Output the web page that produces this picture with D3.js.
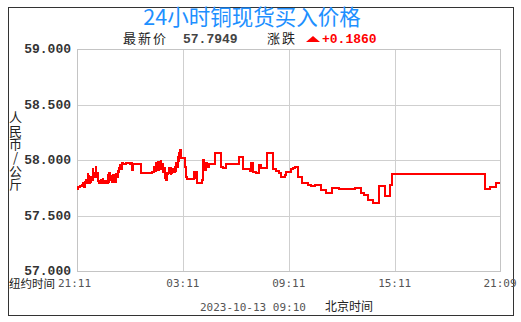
<!DOCTYPE html>
<html>
<head>
<meta charset="utf-8">
<script src="https://cdn.jsdelivr.net/npm/d3@7"></script>
<style>
    body { margin: 0; background: #fff; }
    svg { display: block; }
</style>
</head>
<body>
<div id="vis"></div>
<script>
const width = 521;
const height = 322;
const plot = {left: 77, right: 500, top: 49, bottom: 271};

// minutes after 21:11 (New York time) and price in yuan / kg
const minutes = [0, 4, 10, 16, 20, 22, 25, 28, 31, 33, 36, 38, 39, 41, 44, 46, 48, 50, 53, 54, 55, 56, 59, 61, 63, 65, 66, 68, 70, 72, 75,
    80, 82, 88, 90, 96, 100, 104, 106, 109, 112, 115, 118, 120, 123, 126, 129, 132, 135, 138, 140, 143, 146, 149, 152,
    158, 163, 168, 174, 180, 183, 188, 190, 217, 255,
    262, 265, 267, 270, 272, 274, 276, 279, 281, 283, 285, 287, 289, 292, 295, 298, 301, 304, 307, 310, 313, 316, 318,
    321, 324, 327, 332, 335, 338, 341, 343, 346, 348, 350, 352, 354,
    367, 370, 374, 397, 400, 406, 408, 425, 428, 432, 437, 442, 448, 468,
    488, 495, 508, 551, 565, 588, 591, 597, 608, 619, 625, 646,
    667, 678, 687, 693, 706, 710, 727, 735, 741, 750, 766, 772, 786, 797, 808,
    829, 845, 867, 890, 944, 965, 976, 989, 1006, 1027, 1046, 1065, 1070,
    1388, 1405, 1425, 1438];
const prices = [57.741, 57.759, 57.770, 57.775, 57.790, 57.765, 57.759, 57.800, 57.820, 57.790, 57.871, 57.800, 57.860, 57.790, 57.830, 57.800, 57.850, 57.820, 57.916, 57.840, 57.900, 57.870, 57.880, 57.850, 57.940, 57.925, 57.870, 57.880, 57.850, 57.810, 57.790,
    57.820, 57.790, 57.830, 57.790, 57.810, 57.790, 57.865, 57.800, 57.880, 57.830, 57.820, 57.860, 57.800, 57.865, 57.820, 57.805, 57.870, 57.850, 57.900, 57.895, 57.930, 57.955, 57.920, 57.976,
    57.960, 57.964, 57.975, 57.976, 57.965, 57.970, 57.910, 57.964, 57.880, 57.890,
    57.937, 57.900, 57.960, 57.970, 57.920, 57.985, 57.910, 57.970, 57.985, 57.920, 57.990, 57.925, 57.960, 57.895, 57.930, 57.835, 57.880, 57.820, 57.870, 57.880, 57.930, 57.925, 57.870,
    57.880, 57.920, 57.890, 57.937, 57.900, 57.970, 57.940, 58.030, 57.990, 58.060, 58.090, 58.050, 58.015,
    57.937, 57.850, 57.826, 57.895, 57.835, 57.895, 57.796, 57.820, 58.000, 57.910, 57.970, 57.937, 57.964, 58.066,
    57.937, 57.925, 57.964, 58.030, 57.916, 57.904, 57.976, 57.895, 57.886, 57.955, 57.925, 58.060,
    57.916, 57.904, 57.880, 57.844, 57.865, 57.895, 57.916, 57.925, 57.937, 57.850, 57.796, 57.790, 57.775, 57.766, 57.775,
    57.730, 57.700, 57.745, 57.736, 57.745, 57.700, 57.685, 57.640, 57.610, 57.766, 57.676, 57.775, 57.874,
    57.739, 57.754, 57.795, 57.795];

const tickMinutes = [0, 360, 720, 1080, 1438];
const tickLabels = ['21:11', '03:11', '09:11', '15:11', '21:09'];
const yTicks = [57, 57.5, 58, 58.5, 59];

const titleText = '24小时铜现货买入价格';
const latestPrice = '57.7949';
const change = '+0.1860';
const stamp = '2023-10-13 09:10';
const yUnit = '人民币/公斤';

const svg = d3.select('#vis')
    .append('svg')
    .attr('width', width)
    .attr('height', height);

let xScale = d3.scaleLinear()
    .domain([0, 1438])
    .range([plot.left, plot.right]);
let yScale = d3.scaleLinear()
    .domain([57, 59])
    .range([plot.bottom, plot.top]);

// outer frame
svg.append('rect')
    .attr('x', 8.5).attr('y', 7.5)
    .attr('width', 505).attr('height', 308)
    .attr('fill', '#fff')
    .attr('stroke', '#333');

// grid
svg.selectAll('.hgrid')
    .data(yTicks.slice(1, -1))
    .join('line')
    .attr('class', 'hgrid')
    .attr('x1', plot.left).attr('x2', plot.right)
    .attr('y1', d => Math.round(yScale(d)) + 0.5)
    .attr('y2', d => Math.round(yScale(d)) + 0.5)
    .attr('stroke', '#cfcfcf');

svg.selectAll('.vgrid')
    .data(tickMinutes.slice(1, -1))
    .join('line')
    .attr('class', 'vgrid')
    .attr('x1', d => Math.round(xScale(d)) + 0.5)
    .attr('x2', d => Math.round(xScale(d)) + 0.5)
    .attr('y1', plot.top).attr('y2', plot.bottom)
    .attr('stroke', '#cfcfcf');

svg.append('rect')
    .attr('x', plot.left + 0.5).attr('y', plot.top + 0.5)
    .attr('width', plot.right - plot.left).attr('height', plot.bottom - plot.top)
    .attr('fill', 'none')
    .attr('stroke', '#c4c4c4');

// price line
const line = d3.line()
    .x((d, i) => xScale(minutes[i]))
    .y(d => yScale(d))
    .curve(d3.curveStepAfter);

svg.append('path')
    .datum(prices)
    .attr('d', line)
    .attr('fill', 'none')
    .attr('stroke', '#ff0000')
    .attr('stroke-width', 2)
    .attr('shape-rendering', 'crispEdges');

// y labels
svg.selectAll('.ylab')
    .data(yTicks)
    .join('text')
    .attr('class', 'ylab')
    .attr('x', 71)
    .attr('y', d => yScale(d) + 4)
    .attr('text-anchor', 'end')
    .style('font', 'bold 13px "Liberation Mono"')
    .style('fill', '#333')
    .text(d => d3.format('.3f')(d));

// vertical unit label
svg.append('text')
    .attr('x', 15.5)
    .attr('y', 111)
    .style('font', '13px "Noto Sans CJK SC"')
    .style('writing-mode', 'vertical-rl')
    .style('text-orientation', 'upright')
    .style('letter-spacing', '0.3px')
    .style('fill', '#222')
    .text(yUnit);

// x labels
svg.selectAll('.xlab')
    .data(tickMinutes)
    .join('text')
    .attr('class', 'xlab')
    .attr('x', (d, i) => i == 0 ? 58 : xScale(d))
    .attr('y', 287)
    .attr('text-anchor', (d, i) => i == 0 ? 'start' : 'middle')
    .style('font', '11px "DejaVu Sans Mono"')
    .style('fill', '#555')
    .text((d, i) => tickLabels[i]);

svg.append('text')
    .attr('x', 9).attr('y', 288)
    .style('font', '11.5px "Noto Sans CJK SC"')
    .style('fill', '#222')
    .text('纽约时间');

// title
svg.append('text')
    .attr('x', 252).attr('y', 24.5)
    .attr('text-anchor', 'middle')
    .style('font', '21.5px "Noto Sans CJK SC"')
    .style('fill', '#1e90ff')
    .text(titleText);

// latest price row
svg.append('text')
    .attr('x', 123).attr('y', 43)
    .style('font', '13px "Noto Sans CJK SC"')
    .style('letter-spacing', '2px')
    .style('fill', '#222')
    .text('最新价');
svg.append('text')
    .attr('x', 183).attr('y', 43)
    .style('font', 'bold 13px "Liberation Mono"')
    .style('fill', '#444')
    .text(latestPrice);
svg.append('text')
    .attr('x', 267).attr('y', 43)
    .style('font', '13px "Noto Sans CJK SC"')
    .style('letter-spacing', '2px')
    .style('fill', '#222')
    .text('涨跌');
svg.append('path')
    .attr('d', 'M306,42L313,36L320,42Z')
    .attr('fill', '#ff0000');
svg.append('text')
    .attr('x', 322).attr('y', 43)
    .style('font', 'bold 13px "Liberation Mono"')
    .style('fill', '#ff0000')
    .text(change);

// time stamp
svg.append('text')
    .attr('x', 200).attr('y', 311)
    .style('font', '11px "DejaVu Sans Mono"')
    .style('fill', '#555')
    .text(stamp);
svg.append('text')
    .attr('x', 325).attr('y', 311)
    .style('font', '12px "Noto Sans CJK SC"')
    .style('fill', '#222')
    .text('北京时间');
</script>
</body>
</html>
